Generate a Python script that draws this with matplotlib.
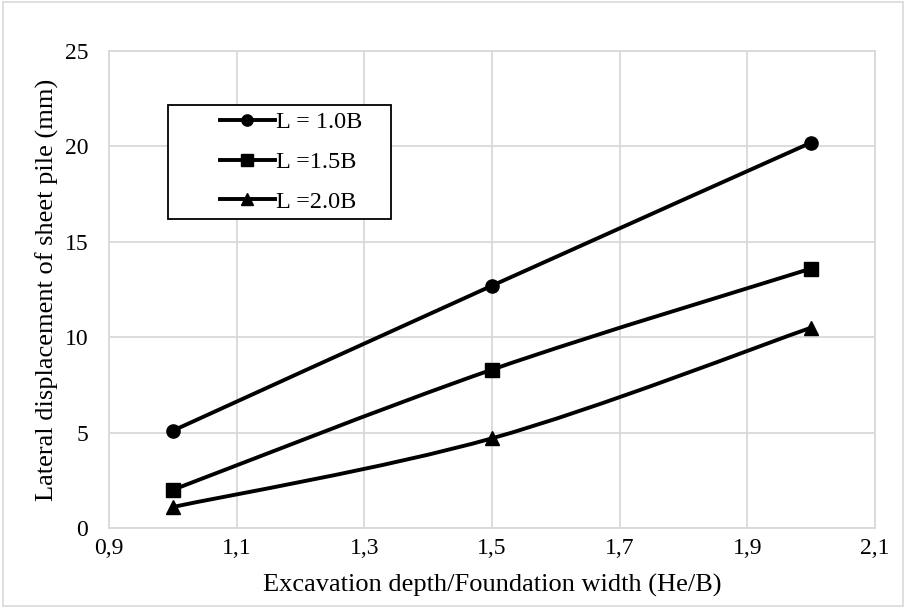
import matplotlib
matplotlib.use("Agg")
import matplotlib.pyplot as plt
from matplotlib.path import Path
from matplotlib.patches import PathPatch, Rectangle
from matplotlib.lines import Line2D
from matplotlib.ticker import FuncFormatter

# He/B ratios and lateral displacement (mm) for each sheet pile length
ratios = [1.0, 1.5, 2.0]
disp_10B = [5.1, 12.7, 20.2]
disp_15B = [2.0, 8.3, 13.6]
disp_20B = [1.1, 4.7, 10.5]
labels = ["L = 1.0B", "L =1.5B", "L =2.0B"]
markers = ["o", "s", "^"]
msizes = [9.5, 10.5, 9.5]

plt.rcParams['font.family'] = ['Liberation Serif', 'DejaVu Serif']


def smooth_path(xs, ys):
    # cubic bezier through the points, same idea as a spreadsheet "smoothed line"
    pts = list(zip(xs, ys))
    n = len(pts)
    verts = [pts[0]]
    codes = [Path.MOVETO]
    for i in range(n - 1):
        p0 = pts[i - 1] if i > 0 else pts[i]
        p1 = pts[i]
        p2 = pts[i + 1]
        p3 = pts[i + 2] if i + 2 < n else pts[i + 1]
        c1 = (p1[0] + (p2[0] - p0[0]) / 6, p1[1] + (p2[1] - p0[1]) / 6)
        c2 = (p2[0] - (p3[0] - p1[0]) / 6, p2[1] - (p3[1] - p1[1]) / 6)
        verts += [c1, c2, p2]
        codes += [Path.CURVE4] * 3
    return Path(verts, codes)


W, H = 906, 608
fig = plt.figure(figsize=(W / 100, H / 100), dpi=100)
fig.patches.append(Rectangle((0.003, 0.004), 0.994, 0.992, transform=fig.transFigure,
                             fill=False, edgecolor='#d9d9d9', linewidth=1.2))
ax = fig.add_axes([109 / W, 1 - 528 / H, 766 / W, 477 / H])

handles = []
for ys, lab, m, ms in zip([disp_10B, disp_15B, disp_20B], labels, markers, msizes):
    ax.add_patch(PathPatch(smooth_path(ratios, ys), facecolor='none',
                           edgecolor='black', linewidth=2.8, zorder=3))
    ax.plot(ratios, ys, linestyle='none', marker=m, markersize=ms,
            color='black', zorder=4)
    handles.append(Line2D([], [], color='black', linewidth=2.8, marker=m,
                          markersize=ms * 0.85, label=lab))

ax.set_xlim(0.9, 2.1)
ax.set_ylim(0, 25)
ax.set_xticks([0.9, 1.1, 1.3, 1.5, 1.7, 1.9, 2.1])
ax.set_yticks([0, 5, 10, 15, 20, 25])
ax.xaxis.set_major_formatter(FuncFormatter(lambda v, p: ("%.1f" % v).replace('.', ',')))
ax.grid(True, color='#d9d9d9', linewidth=1.3)
ax.set_axisbelow(True)
for s in ax.spines.values():
    s.set_color('#d9d9d9')
    s.set_linewidth(1.3)
ax.tick_params(length=0, labelsize=17)
ax.tick_params(axis='x', pad=7)
ax.tick_params(axis='y', pad=15)

ax.set_xlabel('Excavation depth/Foundation width (He/B)', fontsize=19)
ax.set_ylabel('Lateral displacement of sheet pile (mm)', fontsize=19)
ax.xaxis.set_label_coords(0.5, (528 - 574) / 477)
ax.yaxis.set_label_coords((59 - 109) / 766, 0.5)

# legend box drawn separately so its padding can differ left/right vs top/bottom
box = Rectangle((168 / W, 1 - 219 / H), 223 / W, 114 / H, transform=fig.transFigure,
                facecolor='white', edgecolor='black', linewidth=1.3, zorder=5, clip_on=False)
ax.add_patch(box)
leg = ax.legend(handles=handles, loc='center left',
                bbox_to_anchor=(220 / W, 1 - 162 / H), bbox_transform=fig.transFigure,
                fontsize=17.5, frameon=False, handlelength=2.25, handletextpad=0.05,
                labelspacing=0.72, borderpad=0, borderaxespad=0)
leg.set_zorder(6)

fig.savefig('out.png', dpi=100)
